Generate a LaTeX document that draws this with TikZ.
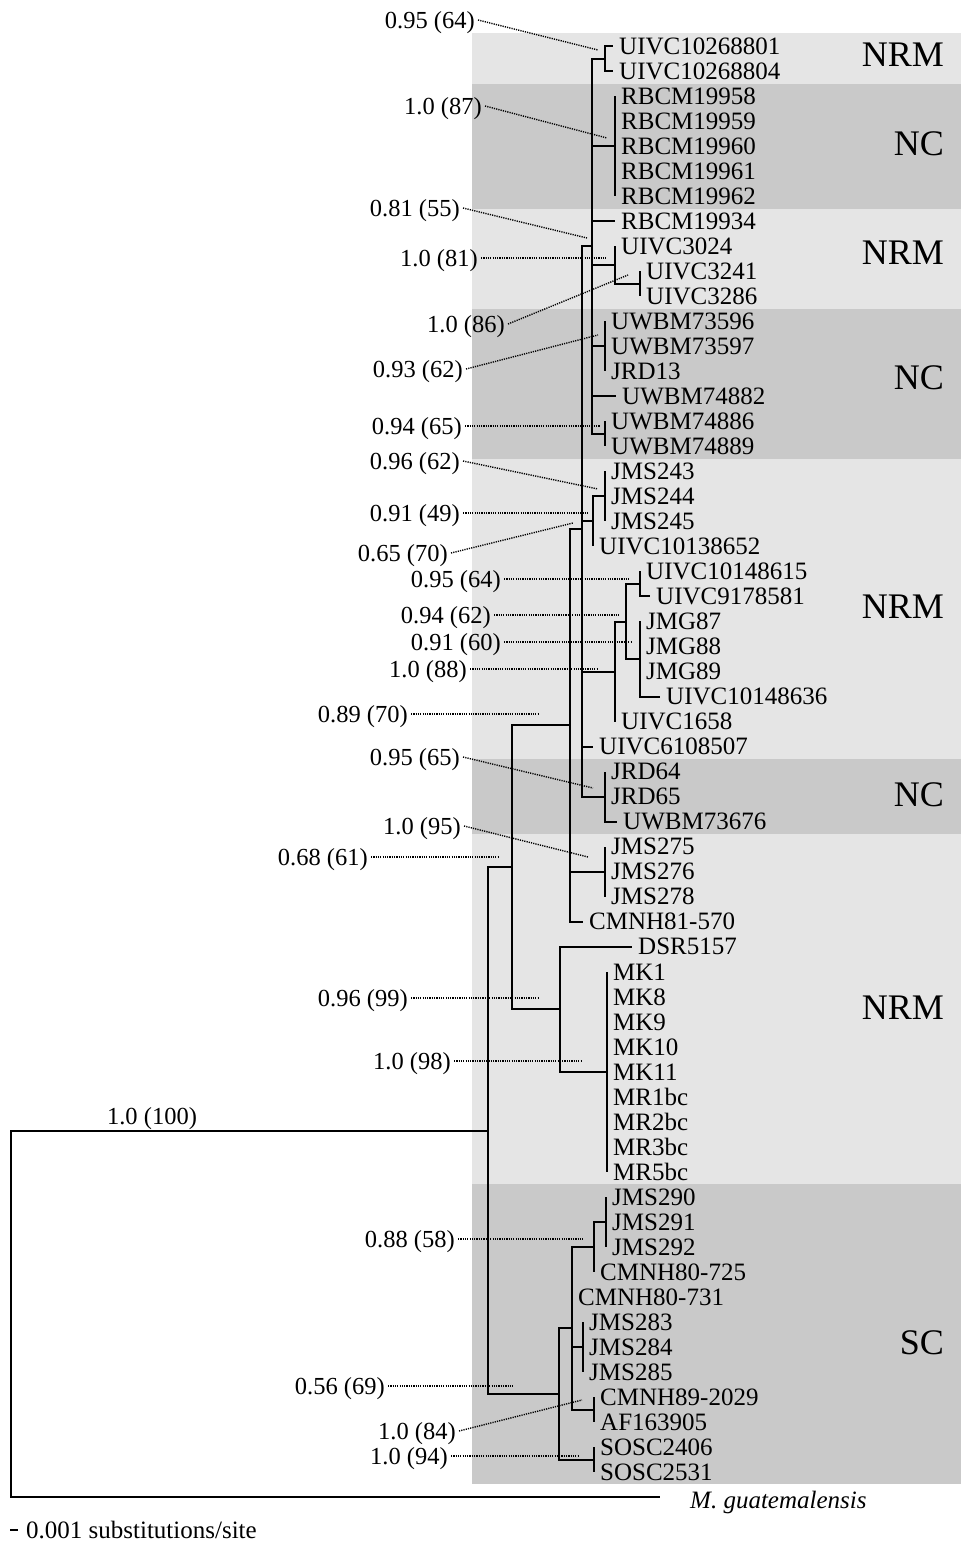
\documentclass[tikz,border=0pt]{standalone}
\usepackage{fontspec}
\setmainfont{Liberation Serif}
\definecolor{bandlight}{gray}{0.90}
\definecolor{banddark}{gray}{0.79}

\begin{document}
\begin{tikzpicture}[
  x=1pt, y=-1pt,
  br/.style={line width=2pt},
  dt/.style={line width=1.4pt, dash pattern=on 1.2pt off 1.1pt},
  tx/.style={anchor=west, inner xsep=6pt, inner ysep=0pt, text height=16.5pt, text depth=0pt, font=\fontsize{25}{25}\selectfont},
  sp/.style={inner xsep=3pt, inner ysep=0pt, text height=16.2pt, text depth=0pt, font=\fontsize{24.5}{24.5}\selectfont},
  grp/.style={anchor=east, inner sep=0pt, text height=23.8pt, text depth=0pt, font=\fontsize{36}{36}\selectfont}
]
\useasboundingbox (0,0) rectangle (961,1550);
\fill[white] (0,0) rectangle (961,1550);

% population bands
\fill[bandlight] (472,33) rectangle (961,1484);
\fill[banddark] (472,83.5) rectangle (961,208.6);
\fill[banddark] (472,308.7) rectangle (961,458.8);
\fill[banddark] (472,759) rectangle (961,834);
\fill[banddark] (472,1184.4) rectangle (961,1484);

% internal nodes
\foreach \n/\cx/\cy in {nA/605/58.5, nB/615/146.1, nD/640/283.7, nC/615/265, nE/605/346.2,
  nF/605/433.8, nG/592/246.2, nH/605/496.4, nI/593/521.4, nJ/640/584, nK/640/659,
  nL/626/621.5, nM/615/671.5, nN/605/796.6, nO/582/529, nP/605/871.7, nQ/570/725.4,
  nR/607/1071.8, nS/560/1009.3, nT/512/867.3, nU/606/1221.9, nV/594/1247,
  nW/583/1347, nX/594/1409.6, nY/572/1328.3, nZ/594/1459.6, nSC/559/1394,
  nIn/488/1130.6, root/11/1313.8}
  \coordinate (\n) at (\cx,\cy);

\foreach \pn/\cn in {nG/nA, nG/nB, nG/nC, nG/nE, nG/nF, nC/nD, nI/nH, nL/nJ, nL/nK,
  nM/nL, nO/nG, nO/nI, nO/nM, nO/nN, nQ/nO, nQ/nP, nS/nR, nT/nQ, nT/nS, nV/nU,
  nY/nV, nY/nW, nY/nX, nSC/nY, nSC/nZ, nIn/nT, nIn/nSC, root/nIn}
  \draw[br] (\pn) |- (\cn);

% taxa
\foreach \lab/\tx/\pn [count=\i] in {UIVC10268801/613/nA, UIVC10268804/613/nA,
  RBCM19958/615/nB, RBCM19959/615/nB, RBCM19960/615/nB, RBCM19961/615/nB, RBCM19962/615/nB,
  RBCM19934/615/nG, UIVC3024/615/nC, UIVC3241/640/nD, UIVC3286/640/nD,
  UWBM73596/605/nE, UWBM73597/605/nE, JRD13/605/nE, UWBM74882/616/nG,
  UWBM74886/605/nF, UWBM74889/605/nF, JMS243/605/nH, JMS244/605/nH, JMS245/605/nH,
  UIVC10138652/593/nI, UIVC10148615/640/nJ, UIVC9178581/650/nJ,
  JMG87/640/nK, JMG88/640/nK, JMG89/640/nK, UIVC10148636/660/nK, UIVC1658/615/nM,
  UIVC6108507/593/nO, JRD64/605/nN, JRD65/605/nN, UWBM73676/617/nN,
  JMS275/605/nP, JMS276/605/nP, JMS278/605/nP, CMNH81-570/583/nQ, DSR5157/632/nS,
  MK1/607/nR, MK8/607/nR, MK9/607/nR, MK10/607/nR, MK11/607/nR,
  MR1bc/607/nR, MR2bc/607/nR, MR3bc/607/nR, MR5bc/607/nR,
  JMS290/606/nU, JMS291/606/nU, JMS292/606/nU, CMNH80-725/594/nV, CMNH80-731/572/nY,
  JMS283/583/nW, JMS284/583/nW, JMS285/583/nW, CMNH89-2029/594/nX, AF163905/594/nX,
  SOSC2406/594/nZ, SOSC2531/594/nZ}
{
  \node[tx] (t\i) at (\tx,{46+25.02*(\i-1)}) {\lab};
  \draw[br] (\pn) |- (t\i.west);
}

% outgroup
\coordinate (ogtip) at (660,1497);
\node[tx, font=\fontsize{25}{25}\selectfont\itshape] (og) at (684,1500) {M. guatemalensis};
\draw[br] (root) |- (ogtip);

% support values
\foreach \txt/\lx/\ly/\px/\py [count=\k] in {0.95 (64)/478/20/598/50, 1.0 (87)/485/106/607/138,
  0.81 (55)/463/208/587/238, 1.0 (81)/481/258/607/258, 1.0 (86)/508/324/628/275,
  0.93 (62)/466/369/598/335, 0.94 (65)/465/426/600/426, 0.96 (62)/463/461/598/489,
  0.91 (49)/463/513/588/513, 0.65 (70)/451/553/573/523, 0.95 (64)/504/579/630/579,
  0.94 (62)/494/615/620/615, 0.91 (60)/504/642/632/642, 1.0 (88)/470/669/597/669,
  0.89 (70)/411/714/538/714, 0.95 (65)/463/757/593/788, 1.0 (95)/464/826/588/857,
  0.68 (61)/371/857/499/857, 0.96 (99)/411/998/538/998, 1.0 (98)/454/1061/582/1061,
  0.88 (58)/458/1239/583/1239, 0.56 (69)/388/1386/513/1386, 1.0 (84)/459/1431/582/1400,
  1.0 (94)/451/1456/578/1456}
{
  \node[sp, anchor=east] (s\k) at (\lx,\ly) {\txt};
  \coordinate (p\k) at (\px,\py);
  \draw[dt] (s\k.east) -- (p\k);
}
\node[sp] (s100) at (152,1116) {1.0 (100)};

% groups
\foreach \g/\gy [count=\k] in {NRM/55, NC/144, NRM/253, NC/378, NRM/607, NC/795, NRM/1008, SC/1343}
  \node[grp] (g\k) at (944,\gy) {\g};

% scale
\coordinate (sb0) at (10,1530);
\coordinate (sb1) at (18,1530);
\draw[br] (sb0) -- (sb1);
\node[tx] (sbl) at (20,1530) {0.001 substitutions/site};
\end{tikzpicture}
\end{document}
